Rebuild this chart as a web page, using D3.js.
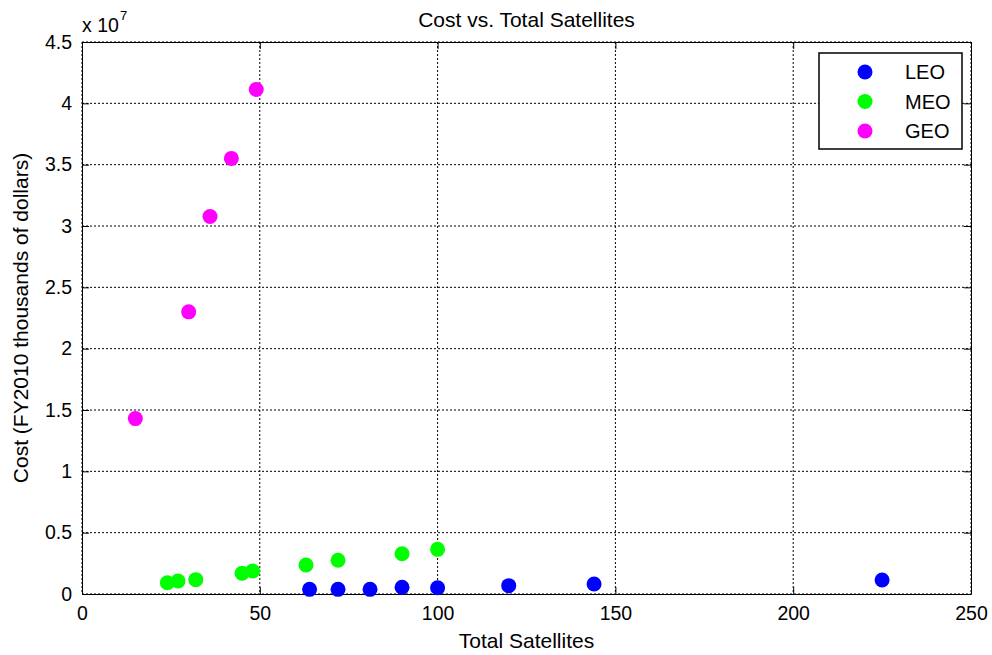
<!DOCTYPE html>
<html>
<head>
<meta charset="utf-8">
<script src="https://cdn.jsdelivr.net/npm/d3@7"></script>
<style>
  body { margin: 0; background: #fff; }
  text { font-family: Arial, "Liberation Sans", sans-serif; fill: #000; }
</style>
</head>
<body>
<script>
// series values (cost in units of 1e7)
var leoX = [64, 72, 81, 90, 100, 120, 144, 225];
var leoY = [0.038, 0.038, 0.038, 0.055, 0.051, 0.068, 0.081, 0.114];
var meoX = [24, 27, 32, 45, 48, 63, 72, 90, 100];
var meoY = [0.092, 0.106, 0.117, 0.169, 0.187, 0.236, 0.275, 0.328, 0.364];
var geoX = [15, 30, 36, 42, 49];
var geoY = [1.43, 2.30, 3.078, 3.551, 4.113];

var seriesNames = ["LEO", "MEO", "GEO"];
var seriesColors = ["#0000ff", "#00ff00", "#ff00ff"];
var xTicks = [0, 50, 100, 150, 200, 250];
var yTicks = [0, 0.5, 1, 1.5, 2, 2.5, 3, 3.5, 4, 4.5];

var width = 992, height = 655;
var margin = {left: 82, right: 21, top: 42, bottom: 61};
var iw = width - margin.left - margin.right,
    ih = height - margin.top - margin.bottom;

var x = d3.scaleLinear().domain([0, 250]).range([0, iw]);
var y = d3.scaleLinear().domain([0, 4.5]).range([ih, 0]);

var svg = d3.select("body").append("svg")
    .attr("width", width)
    .attr("height", height);

var g = svg.append("g")
    .attr("transform", "translate(" + margin.left + "," + margin.top + ")");

// grid
g.selectAll(".vgrid").data(xTicks).enter().append("line")
    .attr("x1", function(d) { return x(d); })
    .attr("x2", function(d) { return x(d); })
    .attr("y1", 0).attr("y2", ih)
    .attr("stroke", "#000").attr("stroke-width", 1)
    .attr("stroke-dasharray", "2,2");
g.selectAll(".hgrid").data(yTicks).enter().append("line")
    .attr("y1", function(d) { return y(d); })
    .attr("y2", function(d) { return y(d); })
    .attr("x1", 0).attr("x2", iw)
    .attr("stroke", "#000").attr("stroke-width", 1)
    .attr("stroke-dasharray", "2,2");

// axes (ticks inward, matlab style)
var fmtY = function(d) { return d === 0 ? "0" : d3.format("")(d); };
var xAxis = g.append("g")
    .attr("transform", "translate(0," + ih + ")")
    .call(d3.axisBottom(x).tickValues(xTicks).tickSizeInner(-7).tickSizeOuter(0).tickPadding(12));
var xTop = g.append("g")
    .call(d3.axisTop(x).tickValues(xTicks).tickSizeInner(-7).tickSizeOuter(0).tickFormat(""));
var yAxis = g.append("g")
    .call(d3.axisLeft(y).tickValues(yTicks).tickSizeInner(-7).tickSizeOuter(0).tickPadding(10).tickFormat(fmtY));
var yRight = g.append("g")
    .attr("transform", "translate(" + iw + ",0)")
    .call(d3.axisRight(y).tickValues(yTicks).tickSizeInner(-7).tickSizeOuter(0).tickFormat(""));

[xAxis, xTop, yAxis, yRight].forEach(function(a) {
    a.selectAll("path").attr("stroke", "#000").attr("stroke-width", 1);
    a.selectAll("line").attr("stroke", "#000");
    a.selectAll("text").attr("font-size", "19.5px").attr("fill", "#000")
        .style("font-family", "Arial, 'Liberation Sans', sans-serif");
});

// points
var series = [
    {x: leoX, y: leoY},
    {x: meoX, y: meoY},
    {x: geoX, y: geoY}
];
series.forEach(function(s, k) {
    g.selectAll(".pt" + k).data(s.x).enter().append("circle")
        .attr("cx", function(d) { return x(d); })
        .attr("cy", function(d, i) { return y(s.y[i]); })
        .attr("r", 7.5)
        .attr("fill", seriesColors[k]);
});

// exponent label
svg.append("text")
    .attr("x", margin.left)
    .attr("y", 32)
    .attr("font-size", "19.5px")
    .text("x 10");
svg.append("text")
    .attr("x", margin.left + 38)
    .attr("y", 20)
    .attr("font-size", "13px")
    .text("7");

// title
svg.append("text")
    .attr("x", margin.left + iw / 2)
    .attr("y", 27)
    .attr("text-anchor", "middle")
    .attr("font-size", "21px")
    .text("Cost vs. Total Satellites");

// axis labels
svg.append("text")
    .attr("x", margin.left + iw / 2)
    .attr("y", 648)
    .attr("text-anchor", "middle")
    .attr("font-size", "21px")
    .text("Total Satellites");
svg.append("text")
    .attr("transform", "translate(28," + (margin.top + ih / 2) + ") rotate(-90)")
    .attr("text-anchor", "middle")
    .attr("font-size", "21px")
    .text("Cost (FY2010 thousands of dollars)");

// legend
var legend = svg.append("g").attr("transform", "translate(819,53)");
legend.append("rect")
    .attr("width", 143).attr("height", 96)
    .attr("fill", "#fff").attr("stroke", "#000").attr("stroke-width", 1.5);
seriesNames.forEach(function(n, i) {
    legend.append("circle")
        .attr("cx", 46).attr("cy", 19 + i * 29.5)
        .attr("r", 7.5).attr("fill", seriesColors[i]);
    legend.append("text")
        .attr("x", 86).attr("y", 19 + i * 29.5)
        .attr("dy", "0.36em")
        .attr("font-size", "20px")
        .text(n);
});
</script>
</body>
</html>
